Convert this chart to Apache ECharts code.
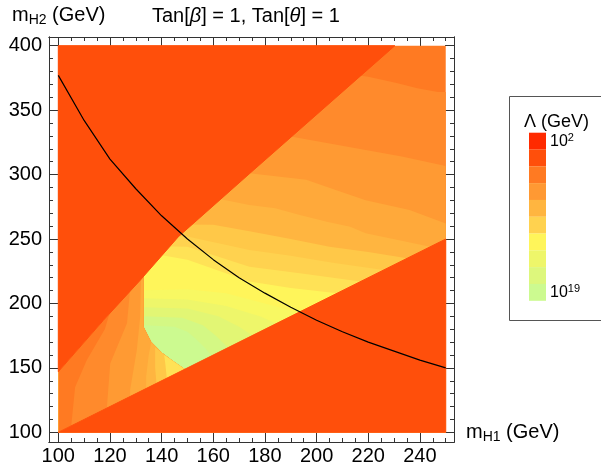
<!DOCTYPE html>
<html>
<head>
<meta charset="utf-8">
<script src="https://cdn.jsdelivr.net/npm/echarts@6/dist/echarts.min.js"></script>
<style>
html, body { margin: 0; padding: 0; background: #fff; }
#chart { width: 601px; height: 466px; }
</style>
</head>
<body>
<div id="chart"></div>
<script>
// tick labels
var xTicks = [100, 120, 140, 160, 180, 200, 220, 240];
var xMinor = [100, 105, 110, 115, 120, 125, 130, 135, 140, 145, 150, 155, 160, 165, 170, 175, 180, 185, 190, 195, 200, 205, 210, 215, 220, 225, 230, 235, 240, 245, 250];
var yTicks = [100, 150, 200, 250, 300, 350, 400];
var yMinor = [100, 110, 120, 130, 140, 150, 160, 170, 180, 190, 200, 210, 220, 230, 240, 250, 260, 270, 280, 290, 300, 310, 320, 330, 340, 350, 360, 370, 380, 390, 400];

// colours of the levels, outer (low Lambda) to centre (high Lambda)
var levelColors = {
    2: '#FF4F0B', 3: '#FF7A22', 4: '#FF8A2C', 5: '#FF9A33', 6: '#FFA93A', 7: '#FFB540',
    8: '#FFC848', 9: '#FFD24F', 10: '#FFE256', 11: '#FFF55A', 12: '#F8F862',
    13: '#EEF66A', 14: '#E2F674', 15: '#D4F884', 16: '#CCFA90'
};
var legendColors = ['#FF2A00', '#FF4F0B', '#FF7A22', '#FF9933', '#FFB540', '#FFD24F', '#FFF55A', '#EEF66A', '#DDF77C', '#CCFA90'];

// region outlines, points are [m_H1, m_H2]
var fullBox = [[100, 100], [250, 100], [250, 400], [100, 400]];
var band4 = [[100, 380], [205, 380], [220, 376], [231, 371], [239, 367], [247, 364], [250, 364], [250, 100], [100, 100]];
var band5 = [[100, 340], [180, 333], [190, 329.5], [219, 319], [233, 314], [250, 306.7], [250, 100], [100, 100]];
var band6 = [[100, 305], [165, 303], [174, 301], [196, 296], [206, 289], [219, 280], [236, 272.5], [250, 262], [250, 100], [100, 100]];
var band7 = [[100, 282], [160, 282], [174, 276.4], [184, 273.8], [193.5, 268.6], [204, 263.4], [213, 259.5], [219, 254.4], [232, 249], [244, 244], [250, 241], [250, 100], [100, 100]];
var band8 = [[100, 262], [160, 261], [174, 256], [190, 250], [205, 244], [220, 240], [235, 235], [250, 229], [250, 100], [100, 100]];
var band9 = [[100, 252], [150, 252], [174, 241.5], [190, 237], [205, 232], [226, 226], [250, 218], [250, 100], [100, 100]];
var band10 = [[100, 246], [150, 244], [174, 228.5], [195, 223], [217, 217], [250, 208], [250, 100], [100, 100]];
var band11 = [[100, 240], [133, 240], [150, 234], [174, 217], [190, 212], [208, 208], [250, 195], [250, 100], [100, 100]];
var band12 = [[130, 210], [150, 211], [165, 208], [180, 200], [193, 193], [205, 183], [205, 120], [130, 120]];
var band13 = [[133, 204], [150, 203], [165, 198], [178, 190], [186, 183], [190, 178], [190, 120], [133, 120]];
var band14 = [[133, 197], [150, 196], [162, 190], [170, 182], [176, 174], [180, 168], [180, 120], [133, 120]];
var band15 = [[133, 190], [148, 189], [156, 183], [161, 175], [166, 165], [170, 158], [170, 120], [133, 120]];
var band16 = [[133, 183], [145, 182], [150, 178], [153, 173], [157, 165], [160, 158], [162, 150], [162, 120], [133, 120]];

var lobe3 = [[100, 100], [100, 147], [117.5, 187], [131.7, 218], [133, 221], [133, 182], [136, 170], [140, 162], [144, 156], [149, 149]];
var lobe4 = [[105, 105], [106.5, 135], [111, 156], [118, 180], [121, 200], [133, 230], [133, 182], [136, 170], [140, 162], [144, 156], [149, 149]];
var lobe5 = [[118.8, 118.8], [120.1, 153.5], [126.6, 184.6], [128, 215], [133, 230], [133, 182], [136, 170], [140, 162], [144, 156], [149, 149]];
var lobe6 = [[127.8, 127.8], [127.8, 132.8], [130.4, 163.9], [131.7, 189.7], [132, 220], [133, 230], [133, 182], [136, 170], [140, 162], [144, 156], [149, 149]];
var lobe7 = [[134, 134], [134, 143], [135, 160], [136, 170], [140, 162], [144, 156], [149, 149]];
var lobe8 = [[138, 138], [137.5, 150], [137.5, 166], [140, 162], [144, 156], [149, 149]];
var lobe9 = [[142, 142], [141.5, 152], [141, 160], [144, 156], [149, 149]];

var redUpper = [[100, 147], [117.5, 187], [131.7, 218], [142, 241.5], [146.5, 251.8], [174.2, 301], [230.3, 400], [100, 400]];
var redLower = [[100, 100], [250, 250], [250, 100]];

// black curve
var curveX = [100, 110, 120, 130, 140, 150, 160, 170, 180, 190, 200, 210, 220, 230, 240, 250];
var curveY = [377, 342, 312, 289, 268, 250, 234, 220, 208, 197, 187, 178, 170, 163, 156, 150];

var polys = [
    {pts: fullBox, level: 3}, {pts: band4, level: 4}, {pts: band5, level: 5}, {pts: band6, level: 6},
    {pts: band7, level: 7}, {pts: band8, level: 8}, {pts: band9, level: 9}, {pts: band10, level: 10},
    {pts: band11, level: 11}, {pts: band12, level: 12}, {pts: band13, level: 13}, {pts: band14, level: 14},
    {pts: band15, level: 15}, {pts: band16, level: 16},
    {pts: lobe3, level: 3}, {pts: lobe4, level: 4}, {pts: lobe5, level: 5}, {pts: lobe6, level: 6},
    {pts: lobe7, level: 7}, {pts: lobe8, level: 8}, {pts: lobe9, level: 10},
    {pts: redUpper, level: 2, edge: true}, {pts: redLower, level: 2, edge: true}
];

var FONT = '"Liberation Sans", Arial, sans-serif';
var X_MIN = 96.4, X_MAX = 253.2, Y_MIN = 92.5, Y_MAX = 406.75;

function makeX(pos, values, len, labels) {
    return {
        type: 'value', position: pos, min: X_MIN, max: X_MAX,
        axisLine: {show: true, onZero: false, lineStyle: {color: '#333', width: 1}},
        axisTick: {show: true, inside: true, length: len, customValues: values, lineStyle: {color: '#333'}},
        axisLabel: {show: labels, customValues: xTicks, color: '#000', fontFamily: FONT, fontSize: 20, margin: 4},
        splitLine: {show: false}
    };
}
function makeY(pos, values, len, labels) {
    return {
        type: 'value', position: pos, min: Y_MIN, max: Y_MAX,
        axisLine: {show: true, onZero: false, lineStyle: {color: '#333', width: 1}},
        axisTick: {show: true, inside: true, length: len, customValues: values, lineStyle: {color: '#333'}},
        axisLabel: {show: labels, customValues: yTicks, color: '#000', fontFamily: FONT, fontSize: 20, margin: 7},
        splitLine: {show: false}
    };
}

var supRich = function (big, small) {
    return {
        b: {fontSize: big, fontFamily: FONT, fill: '#000'},
        s: {fontSize: small, fontFamily: FONT, fill: '#000', verticalAlign: 'top', padding: [0, 0, 9, 0]}
    };
};
var subRich = {
    m: {fontSize: 20, fontFamily: FONT, fill: '#000'},
    s: {fontSize: 14, fontFamily: FONT, fill: '#000', padding: [9, 0, 0, 0]}
};

var legendGraphics = [
    {type: 'rect', shape: {x: 509.5, y: 96.5, width: 120, height: 224}, style: {fill: 'none', stroke: '#555', lineWidth: 1}},
    {type: 'text', x: 524, y: 113, style: {text: 'Λ (GeV)', font: '18px ' + FONT, fill: '#000'}}
];
legendColors.forEach(function (c, i) {
    legendGraphics.push({type: 'rect', shape: {x: 529, y: 132.7 + i * 16.8, width: 17, height: 16.9}, style: {fill: c}});
});
legendGraphics.push({type: 'text', x: 550, y: 132, style: {text: '{b|10}{s|2}', rich: supRich(16, 11)}});
legendGraphics.push({type: 'text', x: 550, y: 283, style: {text: '{b|10}{s|19}', rich: supRich(16, 11)}});

var textGraphics = [
    {type: 'text', x: 12, y: 4, style: {text: '{m|m}{s|H2}{m| (GeV)}', rich: subRich}},
    {type: 'text', x: 466, y: 421, style: {text: '{m|m}{s|H1}{m| (GeV)}', rich: subRich}},
    {type: 'text', x: 152, y: 6, style: {text: 'Tan[{i|β}] = 1, Tan[{i|θ}] = 1', font: '20px ' + FONT, fill: '#000', rich: {i: {fontSize: 20, fontFamily: FONT, fontStyle: 'italic', fill: '#000'}}}}
];

var chart = echarts.init(document.getElementById('chart'), null, {renderer: 'canvas'});
chart.setOption({
    animation: false,
    backgroundColor: '#fff',
    grid: {left: 49, top: 37, width: 405, height: 405, containLabel: false},
    xAxis: [
        makeX('bottom', xTicks, 9, true),
        makeX('bottom', xMinor, 4, false),
        makeX('top', xTicks, 9, false),
        makeX('top', xMinor, 4, false)
    ],
    yAxis: [
        makeY('left', yTicks, 9, true),
        makeY('left', yMinor, 4, false),
        makeY('right', yTicks, 9, false),
        makeY('right', yMinor, 4, false)
    ],
    graphic: legendGraphics.concat(textGraphics),
    series: [
        {
            type: 'custom',
            xAxisIndex: 0, yAxisIndex: 0,
            data: polys.map(function (p, i) { return [p.pts[0][0], p.pts[0][1], i]; }),
            encode: {x: 0, y: 1},
            renderItem: function (params, api) {
                var p = polys[api.value(2)];
                var pts = p.pts.map(function (q) { return api.coord(q); });
                var c = levelColors[p.level];
                return {type: 'polygon', shape: {points: pts}, style: {fill: c, stroke: p.edge ? c : null, lineWidth: p.edge ? 1 : 0}};
            },
            z: 1
        },
        {
            type: 'line',
            xAxisIndex: 0, yAxisIndex: 0,
            data: curveX.map(function (x, i) { return [x, curveY[i]]; }),
            symbol: 'none',
            lineStyle: {color: '#000', width: 1.2},
            z: 5
        }
    ]
});
</script>
</body>
</html>
